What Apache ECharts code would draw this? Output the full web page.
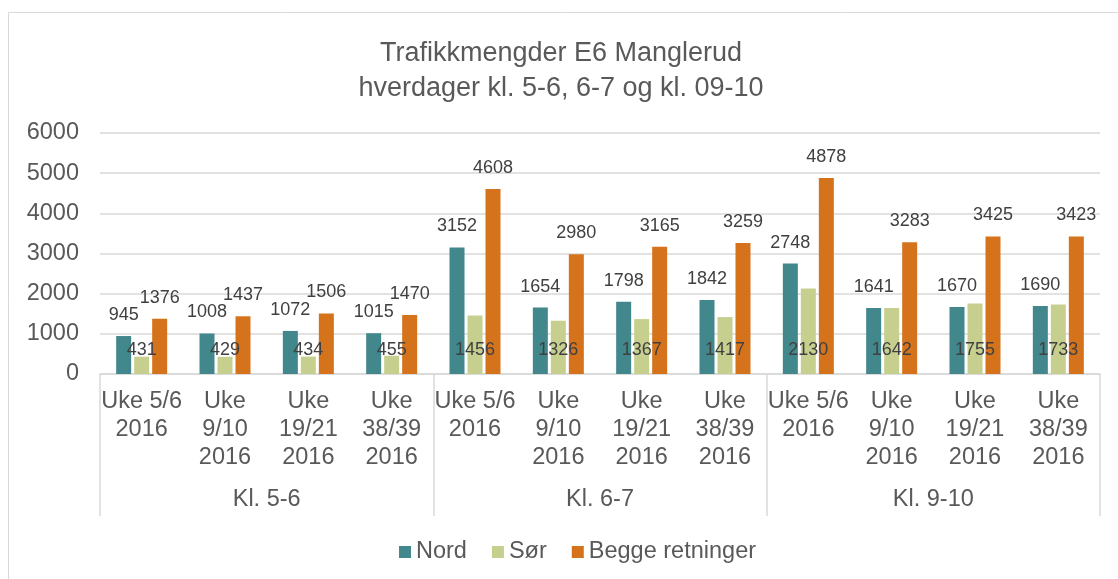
<!DOCTYPE html>
<html>
<head>
<meta charset="utf-8">
<script src="https://cdn.jsdelivr.net/npm/echarts@6/dist/echarts.min.js"></script>
<style>
html,body{margin:0;padding:0;background:#fff;}
#chart{width:1118px;height:579px;}
</style>
</head>
<body>
<div id="chart"></div>
<script>
const categories = ["Uke 5/6\n2016","Uke\n9/10\n2016","Uke\n19/21\n2016","Uke\n38/39\n2016",
                    "Uke 5/6\n2016","Uke\n9/10\n2016","Uke\n19/21\n2016","Uke\n38/39\n2016",
                    "Uke 5/6\n2016","Uke\n9/10\n2016","Uke\n19/21\n2016","Uke\n38/39\n2016"];
const groups = ["Kl. 5-6","Kl. 6-7","Kl. 9-10"];
const nord  = [945,1008,1072,1015,3152,1654,1798,1842,2748,1641,1670,1690];
const sor   = [431,429,434,455,1456,1326,1367,1417,2130,1642,1755,1733];
const begge = [1376,1437,1506,1470,4608,2980,3165,3259,4878,3283,3425,3423];
const seriesNames = ["Nord","Sør","Begge retninger"];
const titleLines = ["Trafikkmengder E6 Manglerud","hverdager kl. 5-6, 6-7 og kl. 09-10"];

const FONT = '"Liberation Sans", Arial, sans-serif';
const TXT = '#595959';
const LBL = '#404040';
const GRID = '#d9d9d9';

const chart = echarts.init(document.getElementById('chart'), null, {renderer:'canvas'});
const topLabel = {show:true, position:'top', distance:12, color:LBL, fontSize:18, fontFamily:FONT};
chart.setOption({
  animation:false,
  backgroundColor:'#fff',
  graphic:[{type:'rect', shape:{x:8.5,y:12.5,width:1200,height:700}, style:{fill:null, stroke:'#d9d9d9', lineWidth:1}, silent:true}],
  title:{
    text: titleLines.join('\n'),
    left:556, top:31, textAlign:'center',
    textStyle:{fontFamily:FONT, fontSize:27, fontWeight:'normal', color:TXT, lineHeight:35}
  },
  legend:{
    data:seriesNames, left:394, top:535, itemWidth:12, itemHeight:12, itemGap:25,
    icon:'rect',
    textStyle:{fontFamily:FONT, fontSize:23.5, color:TXT, padding:[0,0,0,0]}
  },
  grid:{left:100, right:18, top:133, bottom:205, containLabel:false},
  xAxis:[
    {type:'category', data:categories, position:'bottom',
     axisLine:{show:true, lineStyle:{color:GRID, width:1.5}},
     axisTick:{show:false},
     axisLabel:{interval:0, margin:14, fontFamily:FONT, fontSize:23.5, color:TXT, lineHeight:28}},
    {type:'category', data:groups, position:'bottom',
     axisLine:{show:false},
     axisTick:{show:true, length:142, interval:0, lineStyle:{color:GRID, width:1.5}},
     axisLabel:{interval:0, margin:112, fontFamily:FONT, fontSize:23.5, color:TXT, lineHeight:28}}
  ],
  yAxis:{type:'value', min:0, max:6000, interval:1000,
    axisLine:{show:false}, axisTick:{show:false},
    splitLine:{lineStyle:{color:GRID, width:1.5}},
    axisLabel:{margin:21, fontFamily:FONT, fontSize:23.5, color:TXT, formatter:v => String(v)}},
  series:[
    {name:seriesNames[0], type:'bar', data:nord, barWidth:15, barGap:'20%', itemStyle:{color:'#41878b'}, label:topLabel},
    {name:seriesNames[1], type:'bar', data:sor, barWidth:15, barGap:'20%', itemStyle:{color:'#c7cf8f'},
     label:{show:true, position:'insideBottom', distance:15, color:LBL, fontSize:18, fontFamily:FONT}},
    {name:seriesNames[2], type:'bar', data:begge, barWidth:15, barGap:'20%', itemStyle:{color:'#d4731c'}, label:topLabel}
  ]
});
</script>
</body>
</html>
